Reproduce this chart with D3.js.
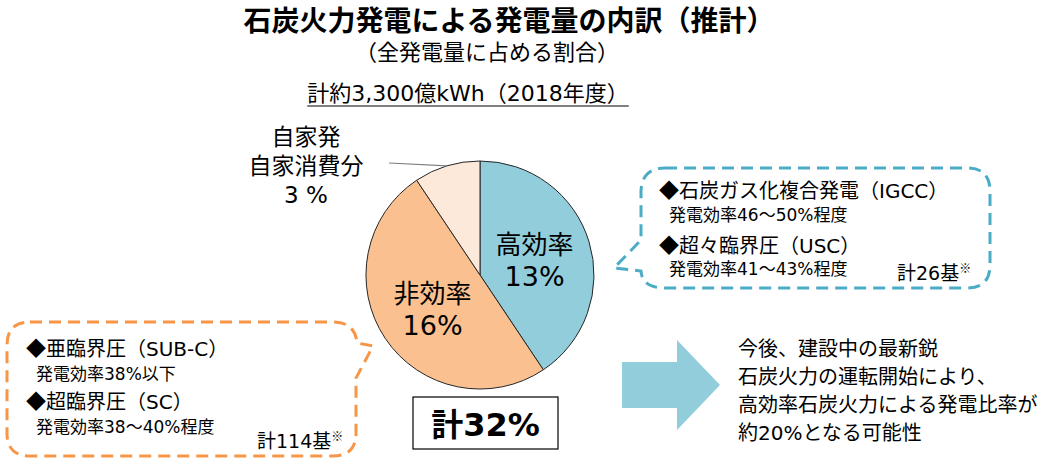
<!DOCTYPE html>
<html><head><meta charset="utf-8">
<script src="https://cdn.jsdelivr.net/npm/d3@7"></script>
<style>
body{margin:0;background:#fff;}
text{font-family:"DejaVu Sans","Noto Sans CJK JP",sans-serif;fill:#000;}
.cjk{font-family:"Noto Sans CJK JP",sans-serif;}
</style></head><body>
<svg id="c" width="1048" height="467"></svg>
<script>
const categories = ["高効率", "非効率", "自家発自家消費分"];
const values = [13, 16, 3];
const valueLabels = ["13%", "16%", "3 %"];
const totalLabel = "計32%";
const titleText = "石炭火力発電による発電量の内訳（推計）";
const subtitleText = "（全発電量に占める割合）";
const totalGenText = "計約3,300億kWh（2018年度）";
const colors = ["#92CDDC", "#FAC090", "#FDE9D9"];
const leftBox = ["◆亜臨界圧（SUB-C）", "発電効率38%以下", "◆超臨界圧（SC）", "発電効率38～40%程度"];
const leftCount = "計114基";
const rightBox = ["◆石炭ガス化複合発電（IGCC）", "発電効率46～50%程度", "◆超々臨界圧（USC）", "発電効率41～43%程度"];
const rightCount = "計26基";
const outlook = ["今後、建設中の最新鋭", "石炭火力の運転開始により、", "高効率石炭火力による発電比率が", "約20%となる可能性"];

const svg = d3.select("#c");

// Titles
svg.append("text").attr("x", 509).attr("y", 31).attr("text-anchor", "middle")
  .style("font-size", "28px").style("font-weight", "bold").text(titleText);
svg.append("text").attr("x", 487).attr("y", 60).attr("text-anchor", "middle")
  .style("font-size", "22px").text(subtitleText);
const tg = svg.append("text").attr("x", 468).attr("y", 101).attr("text-anchor", "middle")
  .style("font-size", "22px").text(totalGenText);
const bb = tg.node().getBBox();
svg.append("line").attr("x1", bb.x).attr("x2", bb.x + bb.width).attr("y1", 106).attr("y2", 106)
  .attr("stroke", "#000").attr("stroke-width", 1.2);

// Pie
const cx = 480, cy = 275, r = 114;
const pie = d3.pie().sort(null).value(d => d)(values);
const arc = d3.arc().innerRadius(0).outerRadius(r);
const g = svg.append("g").attr("transform", `translate(${cx},${cy})`);
g.selectAll("path").data(pie).join("path")
  .attr("d", arc).attr("fill", (d, i) => colors[i])
  .attr("stroke", "#262626").attr("stroke-width", 1);

const lblArc = d3.arc().innerRadius(0).outerRadius(r);
[0, 1].forEach(i => {
  const [x, y] = lblArc.centroid(pie[i]);
  g.append("text").attr("x", x).attr("y", y - 4).attr("text-anchor", "middle")
    .style("font-size", "26px").text(categories[i]);
  g.append("text").attr("x", x).attr("y", y + 28).attr("text-anchor", "middle")
    .style("font-size", "27px").text(valueLabels[i]);
});

// Small slice label with leader
const outerArc = d3.arc().innerRadius(r).outerRadius(r);
const [ex, ey] = outerArc.centroid(pie[2]);
g.append("line").attr("x1", ex).attr("y1", ey).attr("x2", 389 - cx).attr("y2", 163 - cy)
  .attr("stroke", "#7f7f7f").attr("stroke-width", 1.2);
const smallLines = ["自家発", "自家消費分", valueLabels[2]];
smallLines.forEach((t, i) => {
  svg.append("text").attr("x", 306).attr("y", 145 + i * 29).attr("text-anchor", "middle")
    .style("font-size", "23px").text(t);
});

// Total box
svg.append("rect").attr("x", 413).attr("y", 397).attr("width", 145).attr("height", 52)
  .attr("fill", "#fff").attr("stroke", "#000").attr("stroke-width", 1.2);
svg.append("text").attr("x", 485.5).attr("y", 436).attr("text-anchor", "middle")
  .style("font-size", "32px").style("font-weight", "bold").text(totalLabel);

function head(x, y, s) {
  const t = svg.append("text").attr("x", x).attr("y", y).style("font-size", "20px");
  t.append("tspan").attr("class", "cjk").text(s[0]);
  t.append("tspan").text(s.slice(1));
}
function count(x, y, s) {
  const t = svg.append("text").attr("x", x).attr("y", y).style("font-size", "19px");
  t.append("tspan").text(s);
  t.append("tspan").attr("class", "cjk").attr("dy", -7).style("font-size", "12px").text("※");
}

// Left callout (orange dashed)
const lp = d3.path();
lp.moveTo(30, 322); lp.lineTo(333, 322);
lp.quadraticCurveTo(355, 322, 357, 343);
lp.lineTo(373, 346); lp.lineTo(356, 378);
lp.lineTo(356, 433); lp.quadraticCurveTo(356, 456, 333, 456);
lp.lineTo(30, 456); lp.quadraticCurveTo(7, 456, 7, 433);
lp.lineTo(7, 345); lp.quadraticCurveTo(7, 322, 30, 322); lp.closePath();
svg.append("path").attr("d", lp.toString()).attr("fill", "none")
  .attr("stroke", "#F79646").attr("stroke-width", 3).attr("stroke-dasharray", "12,7");

head(26, 356, leftBox[0]);
svg.append("text").attr("x", 36).attr("y", 380).style("font-size", "17px").text(leftBox[1]);
head(26, 409, leftBox[2]);
svg.append("text").attr("x", 36).attr("y", 433).style("font-size", "17px").text(leftBox[3]);
count(257, 448, leftCount);

// Right callout (blue dashed)
const rp = d3.path();
rp.moveTo(665, 168); rp.lineTo(967, 168);
rp.quadraticCurveTo(990, 168, 990, 191);
rp.lineTo(990, 265); rp.quadraticCurveTo(990, 288, 967, 288);
rp.lineTo(665, 288); rp.quadraticCurveTo(642, 288, 641, 271);
rp.lineTo(614, 268); rp.lineTo(641, 240);
rp.lineTo(641, 191); rp.quadraticCurveTo(642, 168, 665, 168); rp.closePath();
svg.append("path").attr("d", rp.toString()).attr("fill", "none")
  .attr("stroke", "#4BACC6").attr("stroke-width", 3).attr("stroke-dasharray", "12,7");

head(659, 198, rightBox[0]);
svg.append("text").attr("x", 669).attr("y", 221).style("font-size", "17px").text(rightBox[1]);
head(659, 253, rightBox[2]);
svg.append("text").attr("x", 669).attr("y", 275).style("font-size", "17px").text(rightBox[3]);
count(897, 280, rightCount);

// Arrow
svg.append("path").attr("d", "M622,362 L677,362 L677,340 L720,385 L677,430 L677,408 L622,408 Z")
  .attr("fill", "#92CDDC");

outlook.forEach((t, i) => {
  svg.append("text").attr("x", 738).attr("y", 356 + i * 28).style("font-size", "20px").text(t);
});
</script>
</body></html>
